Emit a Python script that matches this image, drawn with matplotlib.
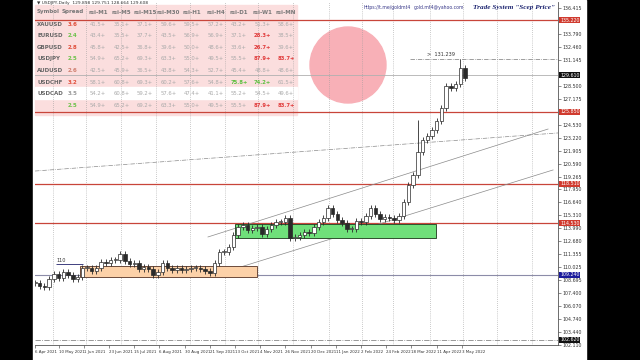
import numpy as np
import pandas as pd
import matplotlib
matplotlib.use('Agg')
import matplotlib.pyplot as plt
from matplotlib.patches import Rectangle, Circle

# USDJPY daily, one close read every 3rd bar, first bar 19 Apr 2021
closes = [108.42, 108.12, 108.01, 108.83, 109.34, 108.93, 109.54, 109.24, 108.83, 109.03,
          109.95, 109.95, 109.64, 109.95, 110.56, 110.46, 110.77, 110.77, 111.38, 110.66,
          110.36, 110.46, 109.85, 110.05, 109.85, 109.24, 109.54, 110.46, 109.95, 109.75,
          109.95, 109.75, 109.85, 109.95, 109.95, 109.85, 109.64, 109.44, 110.46, 111.58,
          111.58, 112.09, 113.31, 114.13, 114.33, 113.82, 114.03, 114.13, 113.42, 113.92,
          114.33, 114.64, 114.64, 115.05, 113.01, 113.11, 113.31, 113.62, 113.52, 114.13,
          114.64, 115.05, 116.06, 115.45, 114.84, 114.53, 113.92, 113.92, 114.74, 114.64,
          115.25, 116.06, 115.45, 114.94, 115.15, 115.05, 114.84, 115.25, 116.67, 118.41,
          119.43, 121.77, 122.99, 123.40, 124.01, 124.93, 126.25, 128.50, 128.29, 128.70,
          130.33, 129.31]
step = 3
wick_hi = {81: 125.0, 90: 131.24}

red_levels = [135.22, 125.85, 118.51, 114.53]
red_labels = ['135.220', '125.850', '118.510', '114.530']
blue_level = 109.24
bid_level = 129.61
low_level = 102.62
high_mark = 131.239

price_ticks = [136.415, 133.790, 132.460, 131.145, 128.500, 127.175, 124.530, 123.220,
               121.905, 120.590, 119.265, 117.950, 116.640, 115.310, 113.990, 112.680,
               111.355, 110.025, 108.695, 107.400, 106.070, 104.740, 103.440, 102.110]

date_labels = ['6 Apr 2021', '10 May 2021', '1 Jun 2021', '23 Jun 2021', '15 Jul 2021',
               '6 Aug 2021', '30 Aug 2021', '21 Sep 2021', '13 Oct 2021', '4 Nov 2021',
               '26 Nov 2021', '20 Dec 2021', '11 Jan 2022', '2 Feb 2022', '24 Feb 2022',
               '18 Mar 2022', '11 Apr 2022', '3 May 2022']

# trend lines / boxes (bar index, price)
upper_ch = [(109.8, 113.11), (325.7, 124.11)]
lower_ch = [(114.3, 109.24), (328.9, 119.94)]
long_dd = [(0, 119.83), (332, 123.71)]
orange_box = (28.6, 141.0, 109.03, 110.15)
green_box = (127.0, 254.6, 113.01, 114.43)

symbols = ['XAUUSD', 'EURUSD', 'GBPUSD', 'USDJPY', 'AUDUSD', 'USDCHF', 'USDCAD', '']
spreads = ['3.6', '2.4', '2.8', '2.5', '2.6', '3.2', '3.5', '2.5']
spread_cols = ['#e0503c', '#6cc24a', '#e0503c', '#6cc24a', '#d08070', '#e0503c', '#999999', '#6cc24a']
headers = ['rsi-M1', 'rsi-M5', 'rsi-M15', 'rsi-M30', 'rsi-H1', 'rsi-H4', 'rsi-D1', 'rsi-W1', 'rsi-MN']
rsi = [[41.5, 35.1, 37.1, 59.6, 59.5, 57.2, 43.2, 51.3, 58.6],
       [43.4, 35.5, 37.7, 43.5, 56.9, 56.9, 37.1, 28.3, 38.5],
       [45.8, 42.5, 36.8, 39.6, 50.0, 48.6, 33.6, 26.7, 39.6],
       [54.9, 65.2, 69.3, 63.3, 55.0, 49.5, 55.5, 87.9, 83.7],
       [42.5, 45.9, 36.5, 43.8, 54.3, 52.7, 45.4, 48.8, 48.6],
       [58.1, 60.8, 69.3, 60.2, 57.6, 54.8, 75.8, 74.2, 61.5],
       [54.2, 60.8, 59.2, 57.6, 47.4, 41.1, 55.2, 54.5, 49.6],
       [54.9, 65.2, 69.2, 63.3, 55.0, 49.5, 55.5, 87.9, 83.7]]

dates = pd.bdate_range('2021-04-19', periods=340)

fig = plt.figure(figsize=(6.4, 3.6), dpi=100, facecolor='black')

# background layer: white chart panel + table background
bg = fig.add_axes([0, 0, 1, 1], zorder=0)
bg.set_xlim(0, 640)
bg.set_ylim(360, 0)
bg.axis('off')
bg.add_patch(Rectangle((33, 0), 553, 360, color='white'))
bg.add_patch(Rectangle((35, 5), 262, 110, color='#fbdede'))
bg.add_patch(Rectangle((35, 87), 262, 12, color='white'))
bg.add_patch(Circle((348, 65), 38, color='#f8b0b7'))

ax = fig.add_axes([35 / 640, 15 / 360, 523 / 640, 343 / 360], zorder=1)
ax.set_facecolor('none')
ax.set_xlim(0, 332)
ax.set_ylim(102.10, 137.055)

# month grid
months = [i for i in range(1, len(dates)) if dates[i].month != dates[i - 1].month]
for m in months:
    ax.axvline(m + 1.5, color='#9a9a9a', ls=(0, (1, 2)), lw=0.5, zorder=1)

for lv in red_levels:
    ax.axhline(lv, color='#c8453a', lw=0.9, zorder=2)
ax.axhline(blue_level, color='#8c8ca8', lw=0.8, zorder=2)
ax.axhline(bid_level, color='#b0b0b0', lw=0.6, zorder=2)
ax.axhline(low_level, color='#888888', lw=0.6, ls='-.', zorder=2)
ax.hlines(high_mark, 238, 332, color='#777777', lw=0.5, ls='-.', zorder=2)
ax.text(249, high_mark + 0.25, '>  131.239', fontsize=3.6, color='#333333', va='bottom')

for seg, sty in [(upper_ch, '-'), (lower_ch, '-'), (long_dd, '-.')]:
    ax.plot([seg[0][0], seg[1][0]], [seg[0][1], seg[1][1]], color='#8a8a8a', lw=0.5, ls=sty, zorder=2)

x0, x1, y0, y1 = orange_box
ax.add_patch(Rectangle((x0, y0), x1 - x0, y1 - y0, facecolor='#fcd1a8', edgecolor='#6b4a3a', lw=0.7, zorder=2))
x0, x1, y0, y1 = green_box
ax.add_patch(Rectangle((x0, y0), x1 - x0, y1 - y0, facecolor='#6fe07a', edgecolor='#2f4f2f', lw=0.7, zorder=2))
ax.hlines(110.35, 13.3, 30.5, color='#404080', lw=0.7, zorder=3)
ax.text(13.5, 110.5, '110', fontsize=3.6, color='#333333', va='bottom')

# candles
prev = closes[0]
for k, c in enumerate(closes):
    x = k * step
    lo, hi = min(prev, c), max(prev, c)
    top = wick_hi.get(k, hi + 0.3)
    ax.vlines(x, lo - 0.3, top, color='#2a2a2a', lw=0.6, zorder=4)
    h = max(hi - lo, 0.08)
    fc = 'white' if c >= prev else '#2a2a2a'
    ax.add_patch(Rectangle((x - 1.1, lo), 2.2, h, facecolor=fc, edgecolor='#2a2a2a', lw=0.5, zorder=5))
    prev = c

# axes
for s in ['top', 'left']:
    ax.spines[s].set_visible(False)
for s in ['right', 'bottom']:
    ax.spines[s].set_color('#555555')
    ax.spines[s].set_linewidth(0.6)
ax.yaxis.tick_right()
ax.set_yticks(price_ticks)
ax.set_yticklabels(['%.3f' % v for v in price_ticks])
ax.tick_params(axis='y', labelsize=3.4, length=2, width=0.4, pad=1.5, colors='#333333')
pos = [0] + [dates.get_loc(pd.Timestamp(s)) for s in date_labels[1:]]
ax.set_xticks(pos)
ax.set_xticklabels(date_labels, ha='left')
ax.tick_params(axis='x', labelsize=2.9, length=2, width=0.4, pad=1.5, colors='#333333')

tagged = [(lv, t, '#d03a2e') for lv, t in zip(red_levels, red_labels)]
tagged += [(blue_level, '109.240', '#1c1c9c'), (bid_level, '129.610', '#111111'), (low_level, '102.620', '#111111')]
for lv, t, col in tagged:
    ax.text(1.004, lv, t, transform=ax.get_yaxis_transform(), fontsize=3.4, color='white',
            va='center', ha='left', bbox=dict(boxstyle='square,pad=0.15', fc=col, ec='none'), zorder=6)

# overlay: table and header texts
ov = fig.add_axes([0, 0, 1, 1], zorder=2)
ov.set_xlim(0, 640)
ov.set_ylim(360, 0)
ov.axis('off')
ov.text(37, 3, '\u25bc USDJPY,Daily  129.898 129.751 128.664 129.608', fontsize=3.2, color='#333333', va='center')
ov.text(364, 7, 'https://t.me/goldmt4', fontsize=3.3, color='#3a3a8a', va='center')
ov.text(414, 7, 'gold.mt4@yahoo.com', fontsize=3.3, color='#3a3a8a', va='center')
ov.text(555, 7, 'Trade System "Scep Price"', fontsize=5.2, color='#1c2470', va='center', ha='right',
        style='italic', weight='bold', family='Liberation Serif')

cols_x = [98 + 23.5 * j for j in range(9)]
ov.text(37, 12, 'Symbol', fontsize=4, color='#777777', weight='bold', va='center')
ov.text(73, 12, 'Spread', fontsize=4, color='#777777', weight='bold', va='center', ha='center')
for j, h in enumerate(headers):
    ov.text(cols_x[j], 12, h, fontsize=4, color='#777777', weight='bold', va='center', ha='center')
for r in range(len(symbols)):
    yy = 24 + 11.6 * r
    ov.text(37, yy, symbols[r], fontsize=4, color='#666666', weight='bold', va='center')
    ov.text(73, yy, spreads[r], fontsize=4, color=spread_cols[r], weight='bold', va='center', ha='center')
    for j, v in enumerate(rsi[r]):
        col, wt = '#aaaaaa', 'normal'
        if v >= 80 or v <= 30:
            col, wt = '#e03a3a', 'bold'
        elif v >= 70:
            col, wt = '#5cc040', 'bold'
        ov.text(cols_x[j], yy, '%.1f+' % v, fontsize=3.8, color=col, weight=wt, va='center', ha='center')

fig.savefig('out.png', dpi=100, facecolor=fig.get_facecolor())
